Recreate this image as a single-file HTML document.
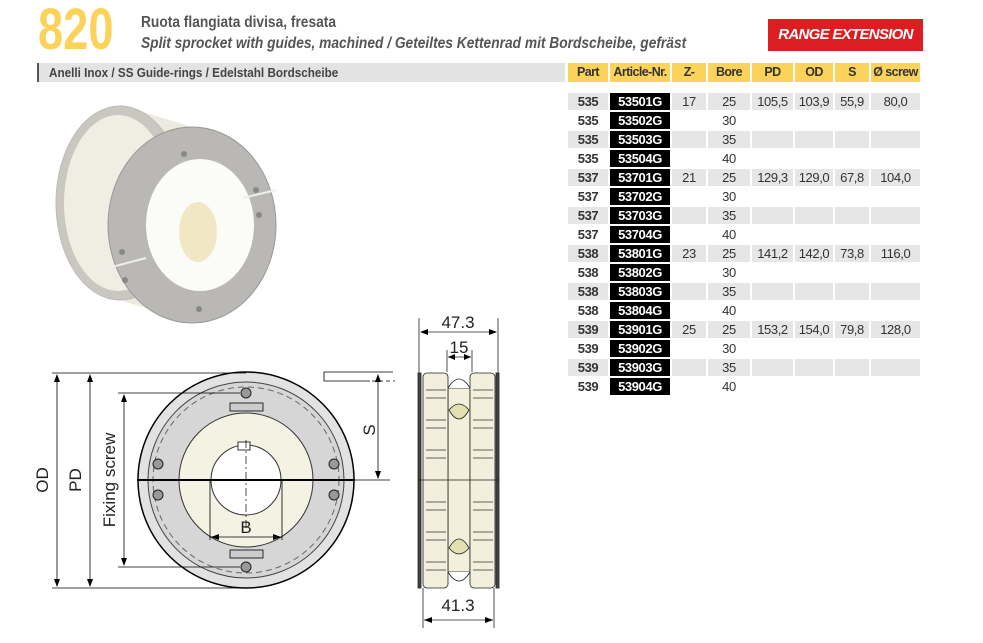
<!DOCTYPE html>
<html><head><meta charset="utf-8"><style>
body{margin:0;width:983px;height:643px;background:#fff;position:relative;overflow:hidden;font-family:"Liberation Sans",sans-serif;}
.a{position:absolute;white-space:nowrap}
#big{left:38px;top:-4px;font-size:58px;color:#fbd35a;transform:scaleX(.78);transform-origin:0 0;font-weight:bold}
#t1{left:141px;top:14px;font-size:16px;font-weight:bold;color:#555;transform:scaleX(.86);transform-origin:0 0}
#t2{left:141px;top:35px;font-size:16px;font-weight:bold;font-style:italic;color:#555;transform:scaleX(.86);transform-origin:0 0}
#badge{left:768px;top:19px;width:155px;height:32px;background:#dc1e22;color:#fff;font-weight:bold;font-style:italic;font-size:15px;text-align:center;line-height:32px;letter-spacing:-.7px}
#bar{left:37px;top:63px;width:528px;height:19px;background:#e3e3e3;border-left:2px solid #555;box-sizing:border-box}
#bar span{position:absolute;left:10px;top:0;font-size:13px;font-weight:bold;color:#444;line-height:19px;transform:scaleX(.9);transform-origin:0 0}
table{position:absolute;left:566px;border-collapse:separate;border-spacing:2px 2px;table-layout:fixed;font-size:13px;color:#333;letter-spacing:-.4px}
td{height:17px;padding:0;text-align:center;line-height:17px;white-space:nowrap;overflow:hidden}
.h td{background:#fbd35a;font-weight:bold;height:19px;font-size:12.5px;letter-spacing:-.6px}
td.p{font-weight:bold}
td.n{background:#000;color:#fff;font-weight:bold}
tr.g td{background:#e6e6e6}
tr.g td.n{background:#000}
svg{position:absolute;left:0;top:0}
</style></head><body>
<svg width="983" height="643">
<g>
<path d="M120,105 L192,127 L192,323 L120,300 Z" fill="#ece9df"/>
<ellipse cx="120" cy="203" rx="64" ry="97" fill="#c9c7c0" stroke="#bbb"/>
<ellipse cx="118" cy="203" rx="54" ry="88" fill="#f0ede3"/>
<ellipse cx="192" cy="225" rx="84" ry="98" fill="#b9b8b4" stroke="#999"/>
<ellipse cx="200" cy="225" rx="54" ry="66" fill="#fbfbf8"/>
<ellipse cx="198" cy="232" rx="19" ry="30" fill="#f2e7c4"/>
<line x1="243" y1="198" x2="276" y2="190" stroke="#eee" stroke-width="2"/>
<line x1="108" y1="268" x2="146" y2="258" stroke="#eee" stroke-width="2"/>
<g fill="#888"><circle cx="184" cy="154" r="3"/><circle cx="256" cy="190" r="3"/><circle cx="259" cy="215" r="3"/><circle cx="122" cy="252" r="3"/><circle cx="125" cy="280" r="3"/><circle cx="199" cy="309" r="3"/></g>
</g>
<g stroke="#000" fill="none">
<circle cx="246" cy="480" r="108" fill="#e2e2e2" stroke-width="1.5"/>
<circle cx="246" cy="480" r="98" fill="#d6d6d6" stroke="#444"/>
<circle cx="246" cy="480" r="93" stroke="#666" stroke-dasharray="6 4"/>
<circle cx="246" cy="480" r="67" fill="#f4f3e3" stroke="#333"/>
<circle cx="246" cy="480" r="35" fill="#fff" stroke="#333"/>
<rect x="238" y="442" width="12" height="8" fill="#fff" stroke="#333"/>
<line x1="137" y1="480" x2="355" y2="480" stroke-width="2"/>
<line x1="246" y1="440" x2="246" y2="530" stroke-dasharray="8 3 2 3" stroke-width=".7"/>
<line x1="210" y1="480" x2="210" y2="540" stroke-width=".8"/>
<line x1="282" y1="480" x2="282" y2="540" stroke-width=".8"/>
<line x1="210" y1="537" x2="282" y2="537" stroke-width=".8"/>
<rect x="230" y="403" width="33" height="8" fill="#ccc" stroke-width=".8"/>
<rect x="230" y="550" width="33" height="8" fill="#ccc" stroke-width=".8"/>
<g fill="#999" stroke="#222"><circle cx="246" cy="393" r="5"/><circle cx="246" cy="567" r="5"/><circle cx="158" cy="464" r="5"/><circle cx="158" cy="495" r="5"/><circle cx="334" cy="464" r="5"/><circle cx="334" cy="495" r="5"/></g>
<g stroke-width=".8">
<line x1="52" y1="373" x2="246" y2="373"/><line x1="52" y1="588" x2="246" y2="588"/>
<line x1="57" y1="375" x2="57" y2="586"/><line x1="90" y1="375" x2="90" y2="586"/>
<line x1="118" y1="393" x2="240" y2="393"/><line x1="118" y1="567" x2="240" y2="567"/>
<line x1="124" y1="395" x2="124" y2="565"/>
<line x1="378" y1="375" x2="378" y2="478"/><line x1="330" y1="480" x2="390" y2="480"/>
<polyline points="393,372 324,372 324,381 370,381"/>
<line x1="372" y1="381" x2="395" y2="381" stroke-dasharray="4 3"/>
</g>
<g fill="#000" stroke="none">
<path d="M57,374 l-3,8 h6z M57,587 l-3,-8 h6z M90,374 l-3,8 h6z M90,587 l-3,-8 h6z M124,394 l-3,8 h6z M124,566 l-3,-8 h6z M378,374 l-3,8 h6z M378,479 l-3,-8 h6z M211,537 l8,-3 v6z M281,537 l-8,-3 v6z"/>
</g>
</g>
<g font-family="Liberation Sans,sans-serif" font-size="17" fill="#222">
<text transform="translate(48,480) rotate(-90)" text-anchor="middle">OD</text>
<text transform="translate(81,480) rotate(-90)" text-anchor="middle">PD</text>
<text transform="translate(115,480) rotate(-90)" text-anchor="middle">Fixing screw</text>
<text transform="translate(375,430) rotate(-90)" text-anchor="middle">S</text>
<text x="246" y="533" text-anchor="middle">B</text>
<text x="458" y="328" text-anchor="middle">47.3</text>
<text x="459" y="353" text-anchor="middle">15</text>
<text x="458" y="611" text-anchor="middle">41.3</text>
</g>
<g stroke="#222" stroke-width=".8">
<line x1="419" y1="318" x2="419" y2="374"/><line x1="498" y1="318" x2="498" y2="374"/>
<line x1="421" y1="332" x2="496" y2="332"/>
<line x1="447" y1="350" x2="447" y2="372"/><line x1="472" y1="350" x2="472" y2="372"/>
<line x1="448" y1="357" x2="471" y2="357"/>
<line x1="423" y1="588" x2="423" y2="628"/><line x1="494" y1="588" x2="494" y2="628"/>
<line x1="424" y1="620" x2="493" y2="620"/>
<rect x="418" y="373" width="3" height="215" fill="#444"/>
<rect x="496" y="373" width="3" height="215" fill="#444"/>
<rect x="448" y="388" width="22" height="184" fill="#f2efdc"/>
<path d="M448,388 q11,-18 22,0" fill="#fff"/>
<path d="M448,572 q11,18 22,0" fill="#fff"/>
<path d="M449,410 q10,-12 20,0 q-10,18 -20,0z" fill="#e4dfb0"/>
<path d="M449,548 q10,-18 20,0 q-10,12 -20,0z" fill="#e4dfb0"/>
<rect x="423" y="373" width="25" height="215" rx="4" fill="#f2efdc"/>
<rect x="470" y="373" width="25" height="215" rx="4" fill="#f2efdc"/>
<line x1="418" y1="480" x2="499" y2="480"/>
</g>
<g stroke="#333" stroke-width=".7" fill="none">
<path d="M426,390h20M426,420h20M426,450h20M426,510h20M426,540h20M426,570h20M473,390h20M473,420h20M473,450h20M473,510h20M473,540h20M473,570h20"/>
<path d="M426,398h20M426,428h20M426,458h20M426,502h20M426,532h20M426,562h20M473,398h20M473,428h20M473,458h20M473,502h20M473,532h20M473,562h20"/>
</g>
<path fill="#000" d="M420,332 l8,-3 v6z M497,332 l-8,-3 v6z M448,357 l7,-3 v6z M471,357 l-7,-3 v6z M424,620 l8,-3 v6z M493,620 l-8,-3 v6z"/>
</svg>
<div class="a" id="big">820</div>
<div class="a" id="t1">Ruota flangiata divisa, fresata</div>
<div class="a" id="t2">Split sprocket with guides, machined / Geteiltes Kettenrad mit Bordscheibe, gefräst</div>
<div class="a" id="badge">RANGE EXTENSION</div>
<div class="a" id="bar"><span>Anelli Inox / SS Guide-rings / Edelstahl Bordscheibe</span></div>
<table style="top:61px">
<colgroup><col style="width:40px"><col style="width:60px"><col style="width:34px"><col style="width:42px"><col style="width:41px"><col style="width:38px"><col style="width:34px"><col style="width:49px"></colgroup>
<tr class="h"><td>Part</td><td>Article-Nr.</td><td>Z-</td><td>Bore</td><td>PD</td><td>OD</td><td>S</td><td>Ø screw</td></tr>
</table>
<table style="top:91px">
<colgroup><col style="width:40px"><col style="width:60px"><col style="width:34px"><col style="width:42px"><col style="width:41px"><col style="width:38px"><col style="width:34px"><col style="width:49px"></colgroup>
<tr class="g"><td class="p">535</td><td class="n">53501G</td><td>17</td><td>25</td><td>105,5</td><td>103,9</td><td>55,9</td><td>80,0</td></tr>
<tr><td class="p">535</td><td class="n">53502G</td><td></td><td>30</td><td></td><td></td><td></td><td></td></tr>
<tr class="g"><td class="p">535</td><td class="n">53503G</td><td></td><td>35</td><td></td><td></td><td></td><td></td></tr>
<tr><td class="p">535</td><td class="n">53504G</td><td></td><td>40</td><td></td><td></td><td></td><td></td></tr>
<tr class="g"><td class="p">537</td><td class="n">53701G</td><td>21</td><td>25</td><td>129,3</td><td>129,0</td><td>67,8</td><td>104,0</td></tr>
<tr><td class="p">537</td><td class="n">53702G</td><td></td><td>30</td><td></td><td></td><td></td><td></td></tr>
<tr class="g"><td class="p">537</td><td class="n">53703G</td><td></td><td>35</td><td></td><td></td><td></td><td></td></tr>
<tr><td class="p">537</td><td class="n">53704G</td><td></td><td>40</td><td></td><td></td><td></td><td></td></tr>
<tr class="g"><td class="p">538</td><td class="n">53801G</td><td>23</td><td>25</td><td>141,2</td><td>142,0</td><td>73,8</td><td>116,0</td></tr>
<tr><td class="p">538</td><td class="n">53802G</td><td></td><td>30</td><td></td><td></td><td></td><td></td></tr>
<tr class="g"><td class="p">538</td><td class="n">53803G</td><td></td><td>35</td><td></td><td></td><td></td><td></td></tr>
<tr><td class="p">538</td><td class="n">53804G</td><td></td><td>40</td><td></td><td></td><td></td><td></td></tr>
<tr class="g"><td class="p">539</td><td class="n">53901G</td><td>25</td><td>25</td><td>153,2</td><td>154,0</td><td>79,8</td><td>128,0</td></tr>
<tr><td class="p">539</td><td class="n">53902G</td><td></td><td>30</td><td></td><td></td><td></td><td></td></tr>
<tr class="g"><td class="p">539</td><td class="n">53903G</td><td></td><td>35</td><td></td><td></td><td></td><td></td></tr>
<tr><td class="p">539</td><td class="n">53904G</td><td></td><td>40</td><td></td><td></td><td></td><td></td></tr>
</table>
</body></html>
